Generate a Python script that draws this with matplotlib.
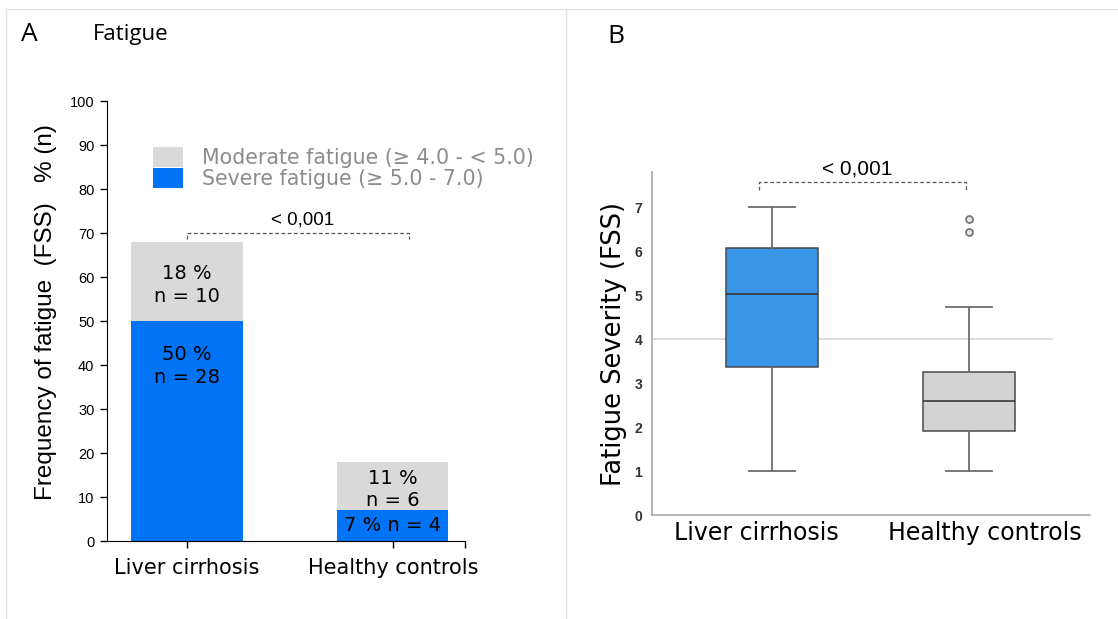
import matplotlib
matplotlib.use("Agg")
import matplotlib.pyplot as plt
from matplotlib.lines import Line2D

groups = ["Liver cirrhosis", "Healthy controls"]
severe_pct = [50, 7]
moderate_pct = [18, 11]
severe_n = [28, 4]
moderate_n = [10, 6]
p_text = "< 0,001"

# FSS box plot summaries (panel B)
fss_whislo = [1.0, 1.0]
fss_q1 = [3.36, 1.91]
fss_med = [5.03, 2.6]
fss_q3 = [6.07, 3.26]
fss_whishi = [7.0, 4.73]
fss_fliers = [[], [6.43, 6.73]]
fss_cutoff = 4.0

BLUE = "#0073f6"
GREY = "#d9d9d9"
BOX_BLUE = "#3a96e8"
BOX_GREY = "#d3d3d3"
ARIAL = "Liberation Sans"

fig = plt.figure(figsize=(11.18, 6.19), dpi=100)

# light frame around the two panels
frame = "#e2e2e2"
fig.add_artist(Line2D([0.005, 1.0], [0.9855, 0.9855], color=frame, lw=1))
fig.add_artist(Line2D([0.0054, 0.0054], [0.0, 0.9855], color=frame, lw=1))
fig.add_artist(Line2D([0.5067, 0.5067], [0.0, 0.9855], color=frame, lw=1))

fig.text(0.019, 0.944, "A", fontsize=19, family="Open Sans", va="center")
fig.text(0.083, 0.944, "Fatigue", fontsize=16, family="Open Sans", va="center")
fig.text(0.543, 0.941, "B", fontsize=19, family="Open Sans", va="center")

# ---------------- panel A: stacked bars ----------------
ax_a = fig.add_axes([0.0957, 0.126, 0.3202, 0.7108])
x = [0, 1]
w = 0.54
ax_a.bar(x, severe_pct, width=w, color=BLUE, label="Severe fatigue (\u2265 5.0 - 7.0)")
ax_a.bar(x, moderate_pct, bottom=severe_pct, width=w, color=GREY,
         label="Moderate fatigue (\u2265 4.0 - < 5.0)")

for i in x:
    s, m = severe_pct[i], moderate_pct[i]
    ax_a.text(i, s + m / 2 - 0.8, f"{m} %\nn = {moderate_n[i]}", ha="center", va="center",
              fontsize=14, linespacing=1.25)
    if s > 15:
        ax_a.text(i, s - 5.5, f"{s} %\nn = {severe_n[i]}", ha="center", va="top",
                  fontsize=14, linespacing=1.25)
    else:
        ax_a.text(i, s / 2, f"{s} % n = {severe_n[i]}", ha="center", va="center",
                  fontsize=14)

top = max(s + m for s, m in zip(severe_pct, moderate_pct)) + 2
ax_a.plot([0, 0, 1.08, 1.08], [top - 1.4, top, top, top - 1.4], color="#555555",
          lw=0.9, ls=(0, (3, 2)))
ax_a.text(0.56, top + 3, p_text, ha="center", va="center", fontsize=13.5, family=ARIAL)

ax_a.set_xlim(-0.388, 1.35)
ax_a.set_ylim(0, 100)
ax_a.set_yticks(range(0, 101, 10))
ax_a.set_xticks(x)
ax_a.set_xticklabels(groups, fontsize=15)
ax_a.set_xticks([1.35], minor=True)
for lab in ax_a.get_yticklabels():
    lab.set_family(ARIAL)
    lab.set_fontsize(10.5)
ax_a.tick_params(axis="both", which="both", direction="out", length=5, width=1)
ax_a.tick_params(axis="x", pad=7)
ax_a.tick_params(axis="y", pad=4)
for side in ["top", "right"]:
    ax_a.spines[side].set_visible(False)
ax_a.text(-0.171, 0.52, "Frequency of fatigue  (FSS)   % (n)", transform=ax_a.transAxes,
          rotation=90, ha="center", va="center", fontsize=17.5, family=ARIAL)

handles, labels = ax_a.get_legend_handles_labels()
leg = ax_a.legend(handles[::-1], labels[::-1], loc="upper left",
                  bbox_to_anchor=(153 / 1118, 1 - 147 / 619), bbox_transform=fig.transFigure,
                  frameon=False, fontsize=14.8, handlelength=1.47, handleheight=1.12,
                  handletextpad=0.9, labelspacing=0, borderpad=0, borderaxespad=0,
                  labelcolor="#8c8c8c")

# ---------------- panel B: box plots ----------------
ax_b = fig.add_axes([0.5832, 0.168, 0.3918, 0.554])
stats = []
for i in x:
    stats.append(dict(whislo=fss_whislo[i], q1=fss_q1[i], med=fss_med[i], q3=fss_q3[i],
                      whishi=fss_whishi[i], fliers=fss_fliers[i]))
ax_b.axhline(fss_cutoff, color="#d4d4d4", lw=1.2, xmax=(1.42 + 0.609) / 2.223, zorder=0)
bp = ax_b.bxp(stats, positions=x, widths=0.47, patch_artist=True, showfliers=True,
              boxprops=dict(edgecolor="#4a4a4a", lw=1.1),
              medianprops=dict(color="#3a3a3a", lw=1.2),
              whiskerprops=dict(color="#6e6e6e", lw=1.3),
              capprops=dict(color="#6e6e6e", lw=1.3),
              flierprops=dict(marker="o", markersize=5, markerfacecolor="#e6e6e6",
                              markeredgecolor="#777777", markeredgewidth=1.3))
for patch, col in zip(bp["boxes"], [BOX_BLUE, BOX_GREY]):
    patch.set_facecolor(col)

ytop = 7.57
ax_b.plot([-0.066, -0.066, 0.985, 0.985], [ytop - 0.18, ytop, ytop, ytop - 0.18],
          color="#555555", lw=0.9, ls=(0, (3, 2)), clip_on=False)
ax_b.text(0.433, ytop + 0.3, p_text, ha="center", va="center", fontsize=15, family=ARIAL)

ax_b.set_xlim(-0.609, 1.614)
ax_b.set_ylim(0, 7.8)
ax_b.set_yticks(range(0, 8))
ax_b.set_xticks([-0.08, 1.08])
ax_b.set_xticklabels(groups, fontsize=17)
for lab in ax_b.get_yticklabels():
    lab.set_family(ARIAL)
    lab.set_fontsize(10)
    lab.set_fontweight("bold")
    lab.set_color("#333333")
ax_b.tick_params(axis="both", length=0)
ax_b.tick_params(axis="x", pad=4)
ax_b.tick_params(axis="y", pad=7)
for side in ["top", "right"]:
    ax_b.spines[side].set_visible(False)
for side in ["left", "bottom"]:
    ax_b.spines[side].set_color("#a8a8a8")
    ax_b.spines[side].set_linewidth(1.2)
ax_b.text(-0.087, 0.5, "Fatigue Severity (FSS)", transform=ax_b.transAxes,
          rotation=90, ha="center", va="center", fontsize=18.5)

fig.savefig("out.png", dpi=100)
